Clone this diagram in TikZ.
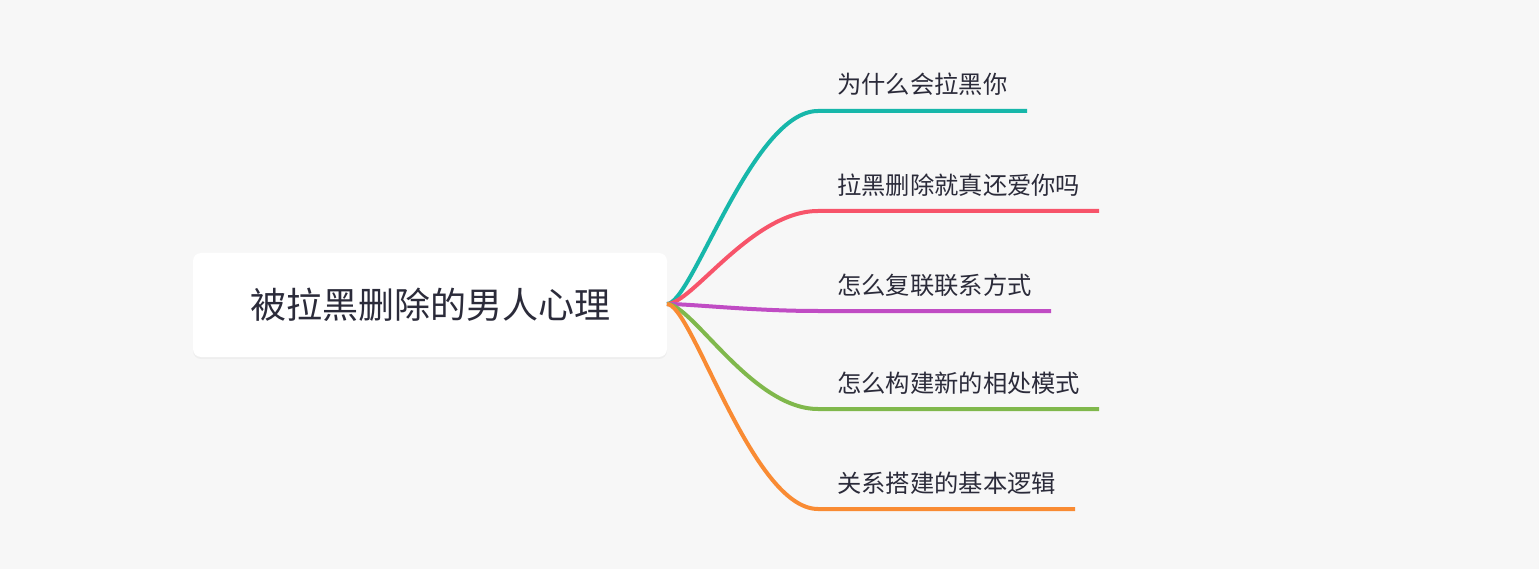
\documentclass[tikz,border=0pt]{standalone}
\usepackage{fontspec}
\setmainfont{Noto Sans CJK SC}
\usetikzlibrary{shadows}
\definecolor{bg}{HTML}{F7F7F7}
\definecolor{txt}{HTML}{2B2B3A}
\definecolor{cteal}{HTML}{17B7AA}
\definecolor{cred}{HTML}{F7546A}
\definecolor{cpurple}{HTML}{C04CC4}
\definecolor{cgreen}{HTML}{80B84C}
\definecolor{corange}{HTML}{F98B33}
\tikzset{
  rootbox/.style={fill=white, rounded corners=8pt, minimum width=474pt, minimum height=104pt, inner sep=0pt,
    text=txt, font=\fontsize{36pt}{42pt}\selectfont,
    drop shadow={opacity=0.07, shadow xshift=0pt, shadow yshift=-2pt}},
  leaf/.style={anchor=west, inner sep=0pt, text=txt, font=\fontsize{24.3pt}{28pt}\selectfont},
  branch/.style={line width=4pt, line cap=butt}
}
\begin{document}
\begin{tikzpicture}[x=1pt,y=-1pt]
\fill[bg] (0,0) rectangle (1539,569);
\useasboundingbox (0,0) rectangle (1539,569);
\node[rootbox] (root) at (430,305) {被拉黑删除的男人心理};
\coordinate (o) at (667,304);
% branch knees and ends
\coordinate (k1) at (818,111); \coordinate (e1) at (1027,111);
\coordinate (k2) at (818,211); \coordinate (e2) at (1099,211);
\coordinate (k3) at (818,311); \coordinate (e3) at (1051,311);
\coordinate (k4) at (818,409); \coordinate (e4) at (1099,409);
\coordinate (k5) at (818,509); \coordinate (e5) at (1075,509);
\node[leaf] (t1) at (837,84) {为什么会拉黑你};
\node[leaf] (t2) at (837,185) {拉黑删除就真还爱你吗};
\node[leaf] (t3) at (837,285) {怎么复联联系方式};
\node[leaf] (t4) at (837,383) {怎么构建新的相处模式};
\node[leaf] (t5) at (837,483) {关系搭建的基本逻辑};
\draw[branch, cteal] (o) .. controls (692,304) and (752,111) .. (k1) -- (e1);
\draw[branch, cred] (o) .. controls (692,304) and (752,211) .. (k2) -- (e2);
\draw[branch, cpurple] (o) .. controls (692,304) and (752,311) .. (k3) -- (e3);
\draw[branch, cgreen] (o) .. controls (692,304) and (752,409) .. (k4) -- (e4);
\draw[branch, corange] (o) .. controls (692,304) and (752,509) .. (k5) -- (e5);
\end{tikzpicture}
\end{document}
